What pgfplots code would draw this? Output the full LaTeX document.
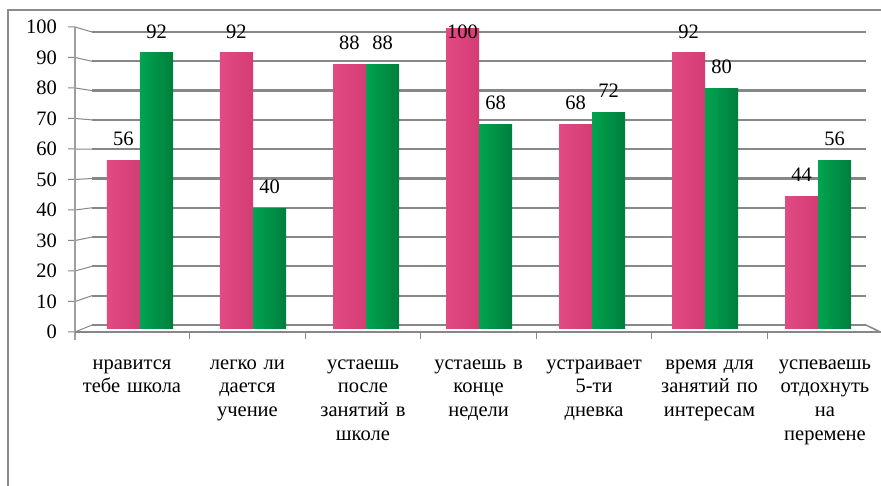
\documentclass[border=0pt]{standalone}
\usepackage{pgfplots}
\pgfplotsset{compat=1.18}
\usepackage{fontspec}
\setmainfont{Liberation Serif}
\definecolor{pinkL}{RGB}{226,74,132}
\definecolor{pinkM}{RGB}{248,122,168}
\definecolor{pinkR}{RGB}{212,60,116}
\definecolor{greenL}{RGB}{0,164,80}
\definecolor{greenM}{RGB}{26,204,108}
\definecolor{greenR}{RGB}{0,126,60}
\definecolor{gridc}{RGB}{135,135,135}
\definecolor{framec}{RGB}{140,140,140}
\newcommand{\lblfont}{\fontsize{20.5}{23.8}\selectfont}
\newcommand{\pbar}[2]{\addplot[draw=none, bar shift=-16.5pt, left color=pinkL, middle color=pinkM, right color=pinkR] coordinates {(#1,#2)};}
\newcommand{\gbar}[2]{\addplot[draw=none, bar shift=16.5pt, left color=greenL, middle color=greenM, right color=greenR] coordinates {(#1,#2)};}
\begin{document}
\begin{tikzpicture}[x=1pt,y=1pt]
\useasboundingbox (0,0) rectangle (881,486);
\fill[white] (0,0) rectangle (881,486);
\draw[framec, line width=1.2pt] (8,-2) -- (8,476) -- (883,476);
\begin{axis}[
  at={(83.5pt,145pt)}, anchor=south west,
  scale only axis, width=791pt, height=315pt,
  xmin=-0.5, xmax=6.5, ymin=-4, ymax=101,
  clip=false,
  axis line style={draw=none},
  tick style={draw=none},
  /pgf/number format/assume math mode=true,
  xtick={-0.071,0.951,1.973,2.996,4.018,5.040,6.062},
  xticklabels={{нравится\\тебе школа},{легко ли\\дается\\учение},{устаешь\\после\\занятий в\\школе},{устаешь в\\конце\\недели},{устраивает\\5-ти\\дневка},{время для\\занятий по\\интересам},{успеваешь\\отдохнуть\\на\\перемене}},
  xticklabel style={font=\lblfont, text width=118pt, align=center, anchor=north, inner sep=0pt, yshift=-14pt},
  ytick={-1,9.167,19.33,29.5,39.67,49.83,60,70.17,80.33,90.5,100.67},
  yticklabels={0,10,20,30,40,50,60,70,80,90,100},
  yticklabel style={font=\lblfont, anchor=east, inner sep=0pt, xshift=-26.5pt},
  ybar=0pt, bar width=33pt,
  visualization depends on={rawy \as \ry},
  nodes near coords,
  every node near coord/.append style={font=\lblfont, anchor=center, inner sep=0pt, yshift={min(22,(99-\ry)*3)}},
]
% 3D-style gridlines: front ticks, diagonals, back wall lines
\pgfplotsinvokeforeach{0,10,20,30,40,50,60,70,80,90,100}{
  \draw[gridc, line width=1pt] (axis cs:-0.637,{-1+1.0167*#1}) -- (axis cs:-0.575,{-1+1.0167*#1}) -- (axis cs:-0.425,{1.333+0.9767*#1});
  \draw[gridc, line width=2.2pt] (axis cs:-0.425,{1.333+0.9767*#1}) -- (axis cs:6.425,{1.333+0.9767*#1});
}
\draw[gridc!80, line width=1.5pt] (axis cs:-0.575,100.67) -- (axis cs:-0.575,-3.7);
\draw[gridc, line width=2.2pt] (axis cs:-0.575,-1) -- (axis cs:6.62,-1);
\draw[gridc, line width=1.5pt] (axis cs:6.425,1.333) -- (axis cs:6.55,-1);
\pgfplotsinvokeforeach{0.440,1.462,2.484,3.507,4.529,5.551}{
  \draw[gridc, line width=1pt] (axis cs:#1,-1) -- (axis cs:#1,-3.3);
}
% pink series
\pbar{0}{56}
\pbar{1}{92}
\pbar{2}{88}
\pbar{3}{100}
\pbar{4}{68}
\pbar{5}{92}
\pbar{6}{44}
% green series
\gbar{0}{92}
\gbar{1}{40}
\gbar{2}{88}
\gbar{3}{68}
\gbar{4}{72}
\gbar{5}{80}
\gbar{6}{56}
\end{axis}
\end{tikzpicture}
\end{document}
